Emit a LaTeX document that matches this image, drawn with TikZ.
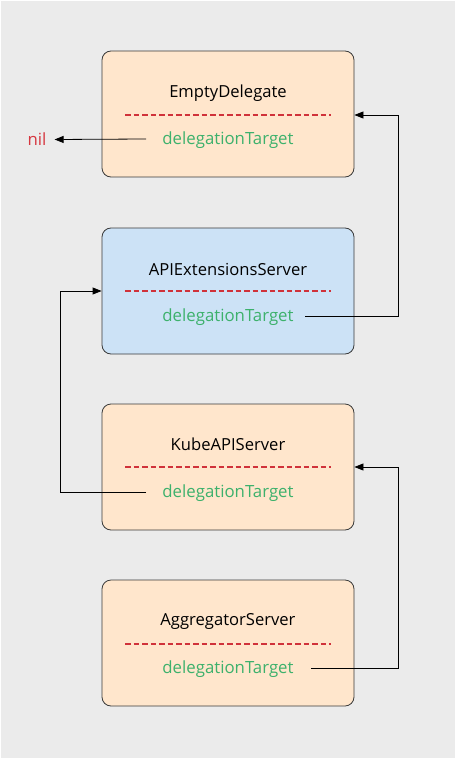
\documentclass[tikz,border=0pt]{standalone}
\usepackage{fontspec}
\setmainfont{Open Sans}
\usetikzlibrary{arrows.meta,calc}
\definecolor{bg}{HTML}{EBEBEB}
\definecolor{orangefill}{HTML}{FFE6CC}
\definecolor{bluefill}{HTML}{CCE2F6}
\definecolor{boxline}{HTML}{3A3A3A}
\definecolor{greentxt}{HTML}{3DB16C}
\definecolor{redtxt}{HTML}{D6363F}
\definecolor{reddash}{HTML}{D0323A}
\tikzset{
  box/.style={draw=boxline, line width=0.8pt, rounded corners=9pt, minimum width=252pt, minimum height=126pt, inner sep=0pt},
  title/.style={font=\fontsize{16.6}{18}\selectfont, text=black, inner sep=0pt},
  field/.style={font=\fontsize{16.8}{18}\selectfont, text=greentxt, inner sep=0pt},
  sep/.style={draw=reddash, line width=1.2pt, dash pattern=on 5.5pt off 3pt},
  link/.style={draw=black, line width=0.8pt, -{Triangle[length=9pt,width=7pt]}},
}
\begin{document}
\begin{tikzpicture}[x=1pt,y=-1pt]
\fill[bg] (0,0) rectangle (456,759);
\draw[white, line width=0.8pt] (0.4,0.4) rectangle (455.6,758.6);
\useasboundingbox (0,0) rectangle (456,759);

% boxes
\node[box, fill=orangefill] (b1) at (228,114) {};
\node[box, fill=bluefill]   (b2) at (228,291) {};
\node[box, fill=orangefill] (b3) at (228,467) {};
\node[box, fill=orangefill] (b4) at (228,643) {};

% titles
\node[title] (t1) at (228,93.5)  {EmptyDelegate};
\node[title] (t2) at (228,269.5) {APIExtensionsServer};
\node[title] (t3) at (228,444.5) {KubeAPIServer};
\node[title] (t4) at (228,621.5) {AggregatorServer};

% dashed separators
\coordinate (s1a) at (125,115); \coordinate (s1b) at (331,115);
\coordinate (s2a) at (125,291); \coordinate (s2b) at (331,291);
\coordinate (s3a) at (125,467); \coordinate (s3b) at (331,467);
\coordinate (s4a) at (125,644); \coordinate (s4b) at (331,644);
\draw[sep] (s1a) -- (s1b);
\draw[sep] (s2a) -- (s2b);
\draw[sep] (s3a) -- (s3b);
\draw[sep] (s4a) -- (s4b);

% fields
\node[field] (f1) at (228,140.5) {delegationTarget};
\node[field] (f2) at (228,317.5) {delegationTarget};
\node[field] (f3) at (228,493.5) {delegationTarget};
\node[field] (f4) at (228,669.5) {delegationTarget};

% nil
\node[font=\fontsize{16.8}{18}\selectfont, text=redtxt, inner sep=0pt] (nil) at (37,139.5) {nil};

% connector anchor points
\coordinate (f1w) at (146,139);
\coordinate (f2e) at (305,316);
\coordinate (f3w) at (146,492);
\coordinate (f4e) at (311,668);
\coordinate (r1) at (398,0);
\coordinate (l1) at (60,0);

\draw[link] (f1w) -- ($(nil.east)+(8,0)$);
\draw[link] (f2e) -- (r1 |- f2e) -- (r1 |- s1b) -- (b1.east |- s1b);
\draw[link] (f3w) -- (l1 |- f3w) -- (l1 |- s2a) -- (b2.west |- s2a);
\draw[link] (f4e) -- (r1 |- f4e) -- (r1 |- s3b) -- (b3.east |- s3b);
\end{tikzpicture}
\end{document}
